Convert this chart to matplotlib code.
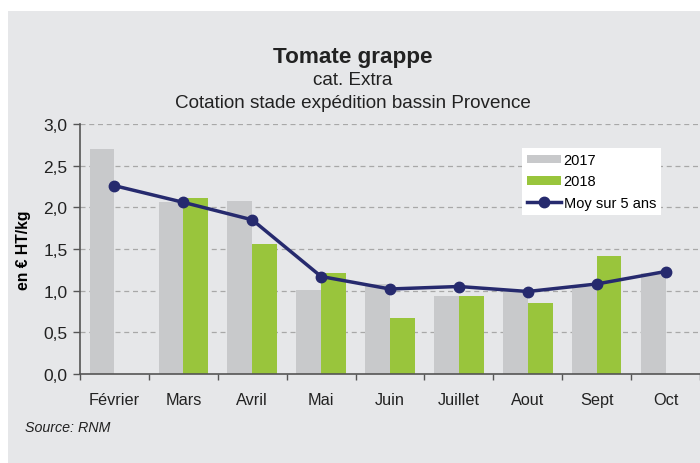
import numpy as np
import matplotlib.pyplot as plt
import matplotlib.patches as mpatches
from matplotlib.ticker import FixedLocator, FuncFormatter

plt.rcParams["font.family"] = ["Liberation Sans", "DejaVu Sans"]

months = ["Février", "Mars", "Avril", "Mai", "Juin", "Juillet", "Aout", "Sept", "Oct"]
prix_2017 = [2.70, 2.06, 2.08, 1.01, 1.08, 0.94, 1.00, 1.04, 1.21]
prix_2018 = [np.nan, 2.11, 1.56, 1.21, 0.67, 0.94, 0.85, 1.42, np.nan]
moy_5ans = [2.26, 2.06, 1.85, 1.17, 1.02, 1.05, 0.99, 1.08, 1.23]

BG = "#e6e7e9"
GREY = "#c8c9cb"
GREEN = "#99c53c"
NAVY = "#262a6e"
AXIS = "#555555"

fig = plt.figure(figsize=(7.0, 4.64), dpi=100)
fig.patch.set_facecolor("white")
fig.patches.append(mpatches.Rectangle((8 / 700, 0), 1, 1 - 12 / 464,
                                      transform=fig.transFigure,
                                      facecolor=BG, edgecolor="none", zorder=-10))

ax = fig.add_axes([80 / 700, 1 - 375 / 464, 620 / 700, 250 / 464])
ax.set_facecolor(BG)

x = np.arange(len(months))
w = 0.36
ax.bar(x - w / 2, prix_2017, w, color=GREY, label="2017", zorder=2)
ax.bar(x + w / 2, prix_2018, w, color=GREEN, label="2018", zorder=2)
ax.plot(x, moy_5ans, color=NAVY, lw=2.5, marker="o", ms=7.5,
        label="Moy sur 5 ans", zorder=3)

ax.set_xlim(-0.5, len(months) - 0.5)
ax.set_ylim(0, 3.0)
ax.set_yticks(np.arange(0, 3.01, 0.5))
ax.yaxis.set_major_formatter(FuncFormatter(lambda v, _: f"{v:.1f}".replace(".", ",")))
for yv in np.arange(0.5, 3.01, 0.5):
    ax.axhline(yv, color="#a8a8a8", lw=0.9, ls=(0, (4, 3)), zorder=1)

ax.set_xticks(x)
ax.set_xticklabels(months)
ax.xaxis.set_minor_locator(FixedLocator(np.arange(-0.5, len(months), 1.0)))
ax.tick_params(axis="x", which="major", length=0, pad=13, labelsize=11.7, labelcolor="#222222")
ax.tick_params(axis="x", which="minor", length=4, direction="out", color=AXIS, width=1)
ax.tick_params(axis="y", length=5, direction="out", color=AXIS, width=1,
               labelsize=12.5, labelcolor="#222222", pad=4)

for side in ["top", "right"]:
    ax.spines[side].set_visible(False)
for side in ["left", "bottom"]:
    ax.spines[side].set_color(AXIS)
    ax.spines[side].set_linewidth(1.2)

ax.set_ylabel("en € HT/kg", fontsize=11.3, fontweight="bold")
ax.yaxis.set_label_coords(-0.079, 0.5)

fig.text(353 / 700, 1 - 58 / 464, "Tomate grappe", ha="center", va="center",
         fontsize=16.2, fontweight="bold", color="#222222")
fig.text(353 / 700, 1 - 81 / 464, "cat. Extra", ha="center", va="center",
         fontsize=13.6, color="#222222")
fig.text(353 / 700, 1 - 103 / 464, "Cotation stade expédition bassin Provence",
         ha="center", va="center", fontsize=13.6, color="#222222")
fig.text(25 / 700, 1 - 428 / 464, "Source: RNM", ha="left", va="center",
         fontsize=10.3, style="italic", color="#222222")

h, l = ax.get_legend_handles_labels()
order = [l.index("2017"), l.index("2018"), l.index("Moy sur 5 ans")]
leg = ax.legend([h[i] for i in order], [l[i] for i in order],
                loc="upper left", bbox_to_anchor=(522 / 700, 1 - 149 / 464),
                bbox_transform=fig.transFigure, fontsize=10.5, frameon=True,
                fancybox=False, framealpha=1, edgecolor="white",
                handlelength=2.3, handleheight=0.55, labelspacing=0.5,
                borderpad=0.35, handletextpad=0.2, borderaxespad=0)
leg.get_frame().set_linewidth(0)

fig.savefig("out.png", dpi=100, facecolor=fig.get_facecolor())
